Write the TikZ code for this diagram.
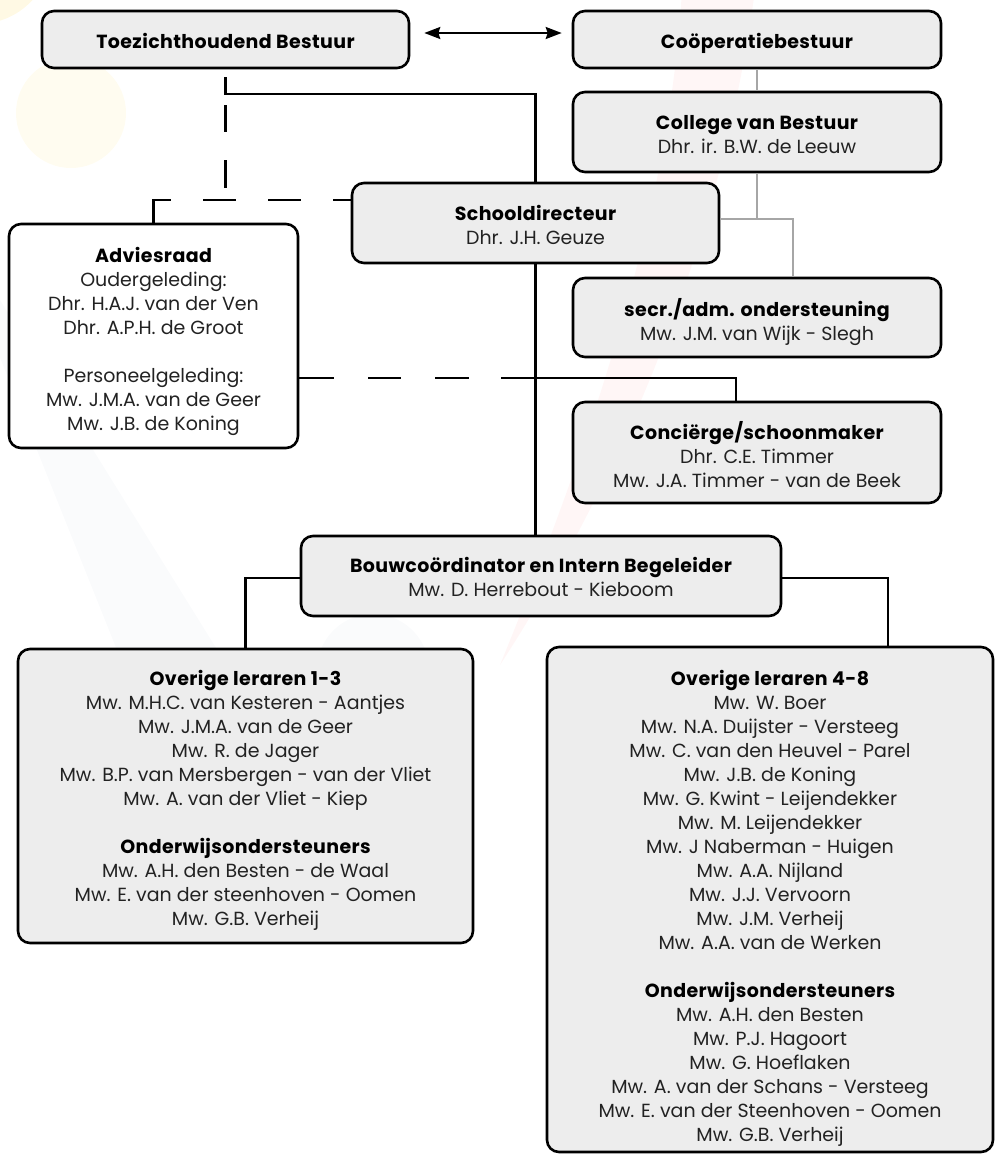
\documentclass[tikz,border=0pt]{standalone}
\usepackage{fontspec}
\setmainfont{Poppins}[BoldFeatures={LetterSpace=2.0}]
\usetikzlibrary{arrows.meta,calc}
\definecolor{boxfill}{HTML}{EDEDED}
\definecolor{txtc}{HTML}{222222}
\definecolor{graylink}{HTML}{A6A6A6}
\definecolor{bgyellow}{HTML}{FFFCF0}
\definecolor{bgyellowb}{HTML}{FFF9E4}
\definecolor{bgpink}{HTML}{FFF6F6}
\definecolor{bgblue}{HTML}{FAFBFC}
\newcommand\hd[1]{\textbf{\color{black}#1}}
\begin{document}
\begin{tikzpicture}[x=1pt,y=-1pt,
  box/.style={draw=black, line width=2.6pt, rounded corners=12pt, fill=boxfill, inner sep=0pt},
  lbl/.style={align=center, inner sep=0pt, text=txtc, font=\fontsize{19}{24}\selectfont, anchor=north},
  link/.style={line width=2.4pt, draw=black},
  glink/.style={line width=2pt, draw=graylink},
  dlink/.style={line width=2.4pt, draw=black}]
\useasboundingbox (0,0) rectangle (995,1154);
% background decoration
\begin{scope}
\clip (0,0) rectangle (995,1154);
\fill[bgyellowb] (-22,-50) circle (74pt);
\fill[bgyellow] (71,113) circle (55pt);
\fill[bgblue] (-23,300) -- (0,300) -- (267,730) -- (149,730) -- cycle;
\fill[bgblue] (373,670) circle (56pt);
\fill[bgpink] (682,-10) .. controls (670,200) and (600,420) .. (500,665)
  .. controls (620,480) and (720,250) .. (755,-10) -- cycle;
\end{scope}
% boxes
\node[box, minimum width=367pt, minimum height=57pt] (tb) at (225.5,39.5) {};
\node[box, minimum width=368pt, minimum height=57pt] (cb) at (757,39.5) {};
\node[box, minimum width=368pt, minimum height=80pt] (cvb) at (757,132) {};
\node[box, minimum width=367pt, minimum height=80pt] (sd) at (535.5,223) {};
\node[box, minimum width=368pt, minimum height=79pt] (sec) at (757,317.5) {};
\node[box, minimum width=368pt, minimum height=101pt] (con) at (757,452.5) {};
\node[box, fill=white, minimum width=289pt, minimum height=224pt] (adv) at (153.5,336) {};
\node[box, minimum width=480pt, minimum height=80pt] (bouw) at (541,576) {};
\node[box, minimum width=455pt, minimum height=294pt] (ol13) at (245.5,796) {};
\node[box, minimum width=446pt, minimum height=505pt] (ol48) at (770,899.5) {};
% texts
\node[lbl] (tbt) at (225.5,31.2) {\strut\hd{Toezichthoudend Bestuur}};
\node[lbl] (cbt) at (757,31.2) {\strut\hd{Coöperatiebestuur}};
\node[lbl] (cvbt) at (757,112.2) {\strut\hd{College van Bestuur}\\Dhr. ir. B.W. de Leeuw};
\node[lbl] (sdt) at (535.5,203.2) {\strut\hd{Schooldirecteur}\\Dhr. J.H. Geuze};
\node[lbl] (sect) at (757,298.2) {\strut\hd{secr./adm. ondersteuning}\\Mw. J.M. van Wijk - Slegh};
\node[lbl] (cont) at (757,421.2) {\strut\hd{Conciërge/schoonmaker}\\Dhr. C.E. Timmer\\Mw. J.A. Timmer - van de Beek};
\node[lbl] (advt) at (153.5,245.2) {\strut\hd{Adviesraad}\\Oudergeleding:\\Dhr. H.A.J. van der Ven\\Dhr. A.P.H. de Groot\\[24pt]Personeelgeleding:\\Mw. J.M.A. van de Geer\\Mw. J.B. de Koning};
\node[lbl] (bouwt) at (541,555.2) {\strut\hd{Bouwcoördinator en Intern Begeleider}\\Mw. D. Herrebout - Kieboom};
\node[lbl] (ol13t) at (245.5,668.2) {\strut\hd{Overige leraren 1-3}\\Mw. M.H.C. van Kesteren - Aantjes\\Mw. J.M.A. van de Geer\\Mw. R. de Jager\\Mw. B.P. van Mersbergen - van der Vliet\\Mw. A. van der Vliet - Kiep\\[24pt]\hd{Onderwijsondersteuners}\\Mw. A.H. den Besten - de Waal\\Mw. E. van der steenhoven - Oomen\\Mw. G.B. Verheij};
\node[lbl] (ol48t) at (770,668.2) {\strut\hd{Overige leraren 4-8}\\Mw. W. Boer\\Mw. N.A. Duijster - Versteeg\\Mw. C. van den Heuvel - Parel\\Mw. J.B. de Koning\\Mw. G. Kwint - Leijendekker\\Mw. M. Leijendekker\\Mw. J Naberman - Huigen\\Mw. A.A. Nijland\\Mw. J.J. Vervoorn\\Mw. J.M. Verheij\\Mw. A.A. van de Werken\\[24pt]\hd{Onderwijsondersteuners}\\Mw. A.H. den Besten\\Mw. P.J. Hagoort\\Mw. G. Hoeflaken\\Mw. A. van der Schans - Versteeg\\Mw. E. van der Steenhoven - Oomen\\Mw. G.B. Verheij};
% helper coordinates
\coordinate (tbk) at (225.5,94);
\coordinate (advk) at (153.5,200);
\coordinate (conk) at (736,378);
\coordinate (gk) at (757,219);
\coordinate (gk2) at (793,219);
\coordinate (rk) at (888,578);
% connectors
\draw[line width=2pt, {Stealth[length=16pt,width=12pt,inset=2pt]}-{Stealth[length=16pt,width=12pt,inset=2pt]}]
  ($(tb.east)+(14,-6.5)$) -- ($(cb.west)+(-10,-6.5)$);
\draw[link] ([yshift=-8pt]tb.south) -- (tbk) -| (sd.north);
\draw[dlink, dash pattern=on 0pt off 11pt on 27pt off 28pt on 28pt off 20pt] (tbk) -- (tbk |- advk);
\draw[dlink, dash pattern=on 18pt off 32pt on 33pt off 32pt on 33pt off 32pt on 80pt] (sd.west |- advk) -- (advk) -- (adv.north);
\draw[link] (sd.south) -- (sd.south |- bouw.north);
\draw[dlink, dash pattern=on 35pt off 34pt on 33pt off 34pt on 34pt off 32pt on 80pt] (adv.east |- conk) -- (sd.south |- conk);
\draw[link] (sd.south |- conk) -- (conk) -- (conk |- con.north);
\draw[glink] (cb.south) -- (cvb.north);
\draw[glink] (cvb.south) -- (gk);
\draw[glink] (sd.east |- gk) -- (gk2) -- (gk2 |- sec.north);
\draw[link] ([yshift=-2pt]bouw.west) -| (ol13.north);
\draw[link] ([yshift=-2pt]bouw.east) -- (rk) -- (rk |- ol48.north);
\end{tikzpicture}
\end{document}
